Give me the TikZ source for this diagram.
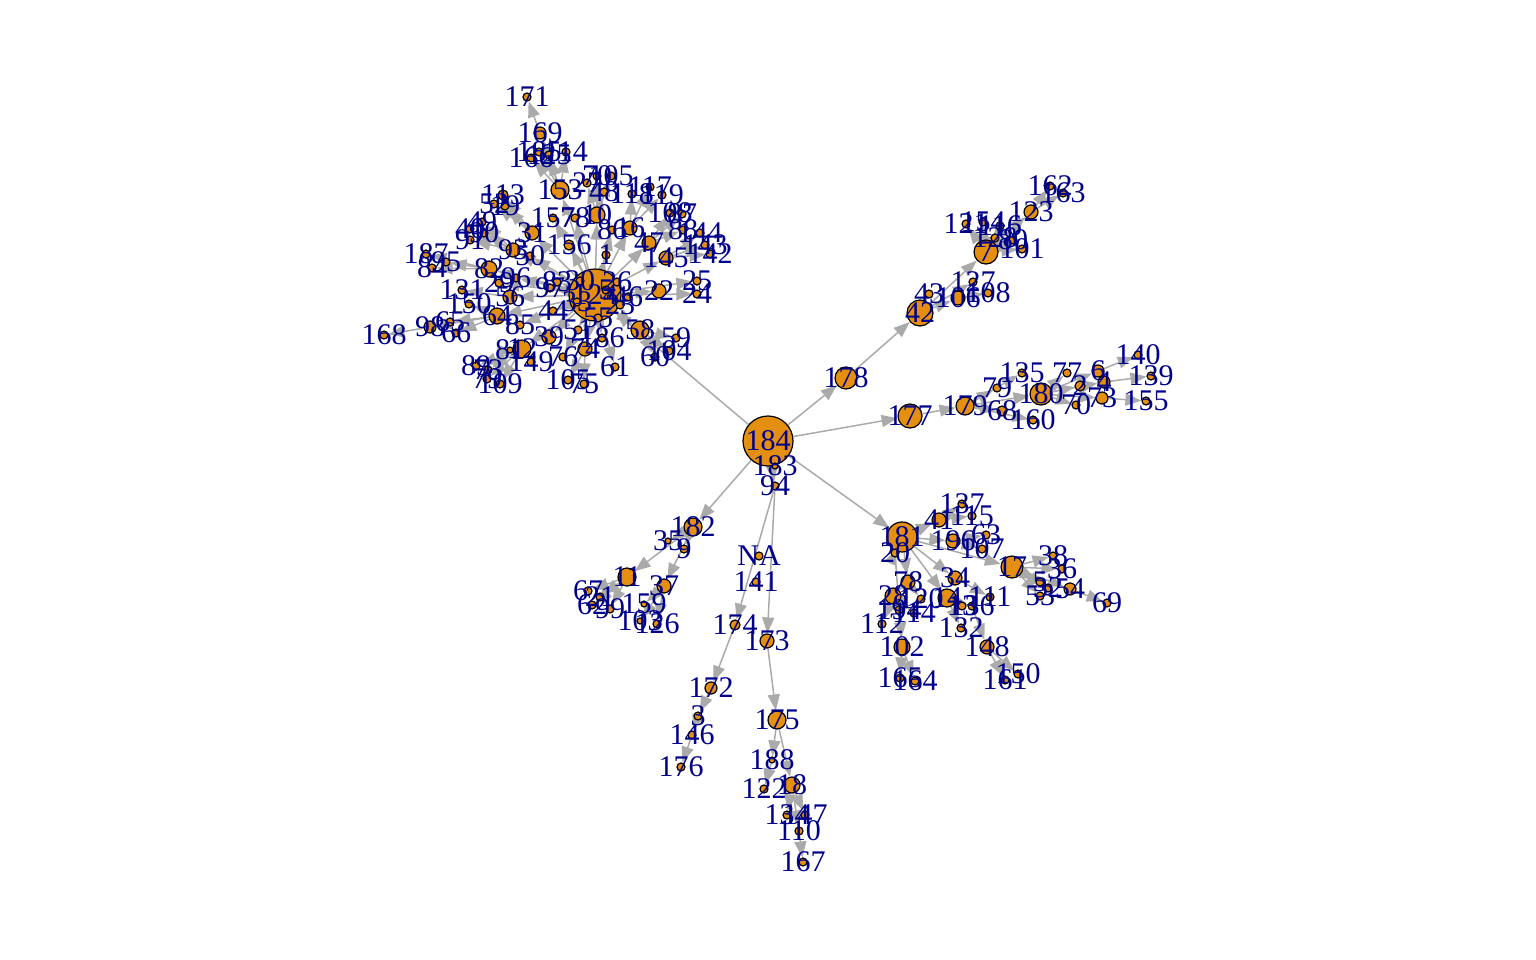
\documentclass[tikz,border=0pt]{standalone}
\usepackage{fontspec}
\setmainfont{Liberation Serif}
\usetikzlibrary{arrows.meta}
\definecolor{vtxorange}{RGB}{228,143,16}
\definecolor{lblblue}{RGB}{0,0,139}
\definecolor{edgegrey}{RGB}{170,170,170}
\pgfdeclarelayer{edgelayer}
\pgfdeclarelayer{lbllayer}
\pgfsetlayers{edgelayer,main,lbllayer}

\begin{document}
\begin{tikzpicture}[x=1pt,y=-1pt,
  vtx/.style={circle,draw=black,line width=1.2pt,fill=vtxorange,inner sep=0pt},
  lbl/.style={text=lblblue,inner sep=0pt,font=\fontsize{30}{30}\selectfont},
  edge/.style={draw=edgegrey,line width=1.5pt,-{Triangle[length=16pt,width=12pt]}}]
  \useasboundingbox (0,0) rectangle (1536,960);

  % vertices: name/x/y/radius/label
  \foreach \n/\x/\y/\r/\t in {
    n184/768/441/25/184, n183/775/466/3/183, n94/775/486/4/94,
    nNA/759/556/4/NA, n141/756/582/4/141, n174/735/625/5/174,
    n173/767/641/7/173, n172/711/688/6/172, n3/698/716/4/3,
    n146/692/735/4/146, n176/681/767/4/176, n175/777/720/9/175,
    n188/772/760/3/188, n122/764/789/4/122, n18/792/785/8/18,
    n134/787/815/4/134, n147/805/815/4/147, n110/799/831/4/110,
    n167/803/862/4/167,
    n182/693/527/9/182, n35/668/541/3/35, n9/684/549/4/9,
    n11/627/577/9/11, n37/664/586/7/37, n67/588/591/4/67,
    n21/600/597/4/21, n62/592/605/4/62, n99/610/609/4/99,
    n159/644/604/3/159, n103/640/621/3/103, n126/657/624/4/126,
    n178/846/378/11/178, n42/920/313/13/42, n43/929/294/4/43,
    n106/958/298/7/106, n127/973/282/4/127, n108/988/293/4/108,
    n7/986/252/12/7, n101/1022/249/4/101, n121/966/224/4/121,
    n154/983/222/4/154, n116/1000/226/4/116, n128/995/238/4/128,
    n80/1013/240/4/80, n123/1031/212/7/123, n162/1050/186/4/162,
    n163/1063/193/4/163,
    n177/910/416/12/177, n179/965/406/9/179, n79/997/388/4/79,
    n135/1022/373/4/135, n68/1002/411/5/68, n160/1033/420/4/160,
    n180/1041/394/11/180, n77/1067/373/4/77, n6/1098/371/6/6,
    n28/1080/386/5/2, n4/1104/382/6/4, n70/1076/405/4/70,
    n73/1102/398/6/73, n140/1138/355/4/140, n139/1151/376/4/139,
    n155/1146/401/4/155,
    n8/902/537/15/181, n20/895/553/4/20, n137/962/504/4/137,
    n115/972/516/4/115, n41/939/520/7/41, n196/953/541/7/196,
    n63/986/535/4/63, n107/982/549/4/107, n17/1012/567/11/17,
    n38/1053/556/4/38, n36/1062/569/4/36, n5b/1040/582/4/5,
    n32/1048/588/4/32, n53/1040/596/4/53, n54/1070/589/6/54,
    n69/1107/603/4/69, n78/908/582/7/78, n28b/893/596/8/28,
    n120/921/599/4/120, n112/882/624/4/112, n114/914/613/4/114,
    n194/899/610/4/194, n102/902/647/8/102, n165/900/678/4/165,
    n164/915/681/4/164, n34/955/578/7/34, n14/947/598/9/14,
    n13/962/606/4/13, n136/972/606/4/136, n111/990/597/4/111,
    n132/961/628/4/132, n148/987/647/7/148, n150/1018/674/4/150,
    n161/1005/680/4/161,
    n124/595/295/26/124, n83/557/282/4/83, n30/580/281/4/30,
    n26/617/282/4/26, n23/620/305/4/23, n46/628/297/4/46,
    n33/577/302/4/33, n5/606/290/4/5, n55/598/318/4/55,
    n171/527/97/4/171, n169/540/133/6/169, n166u/531/158/4/166,
    n185/539/152/4/185, n125/549/155/4/125, n114u/566/152/4/114,
    n153/560/190/9/153, n27/587/183/4/27, n70u/597/176/4/70,
    n105/611/176/4/105, n48/604/192/4/48, n118/632/194/4/118,
    n117/650/187/4/117, n119/662/195/4/119, n113/503/195/5/113,
    n52/494/204/4/52, n19/505/206/4/19, n157/553/218/4/157,
    n78u/575/218/4/78, n10u/597/215/8/10, n86/612/230/4/86,
    n16/630/228/7/16, n47/649/243/7/47, n108u/670/213/4/108,
    n87/682/214/4/87, n88/683/230/4/88, n144/700/233/4/144,
    n143/705/245/4/143, n142/710/254/4/142, n145/666/258/7/145,
    n31/532/233/7/31, n49/482/222/4/49, n40/470/229/4/40,
    n90/484/233/4/90, n91/470/240/4/91, n93/513/250/7/93,
    n50/530/256/4/50, n156/569/245/5/156, n1/606/255/4/1,
    n187/426/254/4/187, n84/432/268/4/84, n95/446/262/4/95,
    n82/489/269/8/82, n29/499/283/4/29, n96/516/278/4/96,
    n131/462/290/4/131, n150u/469/304/4/150, n56/510/297/7/56,
    n98/430/327/6/98, n65/450/322/4/65, n66/456/333/4/66,
    n168/384/335/4/168, n64/497/316/8/64, n85/520/325/4/85,
    n44/553/311/4/44, n97/550/288/4/97, n39/549/337/7/39,
    n51/578/330/4/51, n186/602/338/4/186, n58/640/330/9/58,
    n74/585/349/7/74, n76/563/357/4/76, n61/615/367/4/61,
    n60/655/357/4/60, n104/669/351/4/104, n59/676/338/4/59,
    n105b/568/380/4/105, n75/584/384/4/75, n81/510/350/3/81,
    n12/522/349/9/12, n149/531/362/4/149, n89/476/366/4/89,
    n73u/488/370/4/73, n79u/487/379/4/79, n109/500/384/4/109,
    n22/659/291/7/22, n25/697/281/4/25, n24/697/294/4/24}{
    \node[vtx,minimum size={2*\r*1pt}] (\n) at (\x,\y) {};
    \begin{pgfonlayer}{lbllayer}
      \node[lbl] (\n-lbl) at (\x,\y) {\t};
    \end{pgfonlayer}
  }

  % arrows from parent to child
  \begin{pgfonlayer}{edgelayer}
    \foreach \a/\b in {
      n184/n124, n184/n94, n184/n178, n184/n177, n184/n8, n184/n182,
      n94/n174, n94/n173, n174/n172, n172/n3, n3/n146, n146/n176,
      n173/n175, n175/n188, n175/n18, n188/n122, n18/n134, n18/n147,
      n18/n110, n110/n167,
      n182/n35, n182/n9, n182/n11, n182/n37, n11/n67, n11/n21,
      n11/n62, n11/n99, n37/n159, n37/n103, n37/n126,
      n178/n42, n42/n43, n42/n106, n42/n127, n106/n108, n42/n7,
      n7/n101, n7/n121, n7/n154, n7/n116, n7/n128, n7/n80, n7/n123,
      n123/n162, n123/n163,
      n177/n179, n179/n79, n179/n135, n179/n68, n179/n160, n179/n180,
      n180/n77, n180/n6, n180/n28, n180/n4, n180/n70, n180/n73,
      n6/n140, n4/n139, n73/n155,
      n8/n20, n8/n41, n41/n137, n41/n115, n8/n196, n196/n63, n196/n107,
      n8/n17, n17/n38, n17/n36, n17/n5b, n17/n32, n17/n53, n17/n54,
      n54/n69, n8/n78, n78/n28b, n78/n120, n28b/n112, n28b/n114,
      n28b/n194, n20/n102, n102/n165, n102/n164, n8/n34, n34/n111,
      n8/n14, n14/n13, n14/n136, n14/n132, n136/n148, n148/n161,
      n148/n150,
      n124/n22, n124/n25, n124/n24, n124/n145, n124/n47, n124/n16,
      n124/n10u, n124/n1, n124/n156, n124/n153, n124/n31, n124/n93,
      n124/n82, n124/n56, n124/n64, n124/n85, n124/n44, n124/n97,
      n124/n39, n124/n51, n124/n186, n124/n58, n124/n74, n124/n76,
      n124/n61, n124/n12, n124/n157, n124/n78u, n124/n86, n124/n96,
      n124/n29, n124/n50, n124/n83, n124/n46,
      n153/n169, n153/n166u, n153/n185, n153/n125, n153/n114u,
      n169/n171, n10u/n27, n10u/n70u, n10u/n105, n10u/n48,
      n16/n118, n16/n117, n16/n119, n47/n108u, n47/n87, n47/n88,
      n145/n144, n145/n143, n145/n142, n31/n113, n31/n52, n31/n19,
      n93/n49, n93/n40, n93/n90, n93/n91, n82/n187, n82/n84, n82/n95,
      n56/n131, n64/n150u, n64/n98, n98/n168, n64/n65, n64/n66,
      n12/n81, n12/n149, n12/n89, n12/n73u, n12/n79u, n12/n109,
      n74/n105b, n74/n75, n58/n60, n58/n104, n58/n59}
      \draw[edge] (\a) -- (\b);
  \end{pgfonlayer}
\end{tikzpicture}
\end{document}
